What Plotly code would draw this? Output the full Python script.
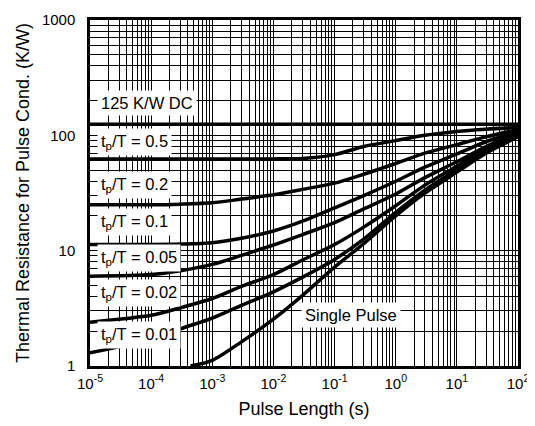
import plotly.graph_objects as go
import math

# Pulse length (s)
pulse_len = [1e-5, 1e-4, 3e-4, 1e-3, 3e-3, 1e-2, 3e-2, 1e-1, 3e-1, 1, 3, 10, 30, 100]

# Thermal resistance (K/W) for each duty cycle
z_dc = [125] * len(pulse_len)
z_05 = [62.5, 62.5, 62.5, 62.5, 62.5, 62.5, 63, 68, 80, 90, 100, 108, 113, 117]
z_02 = [25, 25, 25.3, 26, 28, 30.5, 34, 38.5, 46, 57, 70, 83, 97, 112]
z_01 = [11.3, 11.3, 11.4, 11.7, 12.8, 14.8, 18, 23.5, 30, 40, 53, 69, 88, 108]
z_005 = [6.0, 6.2, 6.7, 7.6, 9.1, 11.2, 13.8, 17.5, 23, 31, 43, 59, 80, 105]
z_002 = [2.4, 2.75, 3.2, 3.85, 4.9, 6.2, 8.3, 11.3, 16, 24.5, 37, 54, 77, 103]
z_001 = [1.3, 1.7, 2.1, 2.6, 3.35, 4.4, 5.9, 8.4, 12.6, 21.5, 33.5, 50.5, 73, 100]

single_len = [4.4e-4, 1e-3, 3e-3, 1e-2, 3e-2, 1e-1, 3e-1, 1, 3, 10, 30, 100]
z_single = [1.0, 1.12, 1.62, 2.55, 4.1, 7.2, 11.5, 20, 31.5, 48, 70, 97]

x_tickvals = [1e-5, 1e-4, 1e-3, 1e-2, 1e-1, 1, 10, 100]
x_ticktext = ["10<sup>-5</sup>", "10<sup>-4</sup>", "10<sup>-3</sup>", "10<sup>-2</sup>",
              "10<sup>-1</sup>", "10<sup>0</sup>", "10<sup>1</sup>", "10<sup>2</sup>"]
y_tickvals = [1, 10, 100, 1000]
y_ticktext = ["1", "10", "100", "1000"]

# labels: (text, x position [s], y position [K/W], anchor)
labels = [
    ("125 K/W DC", 1.3e-5, 191, "left"),
    ("t<sub>p</sub>/T = 0.5", 1.3e-5, 87, "left"),
    ("t<sub>p</sub>/T = 0.2", 1.3e-5, 37, "left"),
    ("t<sub>p</sub>/T = 0.1", 1.3e-5, 17.7, "left"),
    ("t<sub>p</sub>/T = 0.05", 1.3e-5, 8.6, "left"),
    ("t<sub>p</sub>/T = 0.02", 1.3e-5, 4.3, "left"),
    ("t<sub>p</sub>/T = 0.01", 1.3e-5, 1.85, "left"),
    ("Single Pulse", 0.187, 2.77, "center"),
]

FONT = "Liberation Sans, Arial, Helvetica, sans-serif"

fig = go.Figure()
series = [z_dc, z_05, z_02, z_01, z_005, z_002, z_001]
for ys in series:
    fig.add_trace(go.Scatter(x=pulse_len, y=ys, mode="lines",
                             line=dict(color="black", width=3.5, shape="spline", smoothing=0.8),
                             showlegend=False, hoverinfo="skip"))
fig.add_trace(go.Scatter(x=single_len, y=z_single, mode="lines",
                         line=dict(color="black", width=3.5, shape="spline", smoothing=0.8),
                         showlegend=False, hoverinfo="skip"))

for text, lx, ly, anc in labels:
    fig.add_annotation(x=math.log10(lx), y=math.log10(ly), text=text, showarrow=False,
                       xanchor=anc, yanchor="middle", bgcolor="white", borderpad=3,
                       font=dict(family=FONT, size=16.5, color="black"))

axis_common = dict(
    type="log",
    showline=True, mirror=True, linecolor="black", linewidth=2.5,
    showgrid=True, gridcolor="black", gridwidth=1.4,
    zeroline=False,
    ticks="", tickfont=dict(family=FONT, size=15, color="black"),
    minor=dict(dtick="D1", showgrid=True, gridcolor="black", gridwidth=1.4, ticks=""),
)

fig.update_xaxes(**axis_common, range=[-5, 2], tickmode="array",
                 tickvals=x_tickvals, ticktext=x_ticktext, ticklabelstandoff=2,
                 title=dict(text="Pulse Length (s)", font=dict(family=FONT, size=18, color="black"),
                            standoff=12))
fig.update_yaxes(**axis_common, range=[0, 3], tickmode="array",
                 tickvals=y_tickvals, ticktext=y_ticktext, ticklabelstandoff=9,
                 title=dict(text="Thermal Resistance for Pulse Cond. (K/W)",
                            font=dict(family=FONT, size=18, color="black"), standoff=8))

fig.update_layout(width=527, height=418, margin=dict(l=82, r=17, t=12, b=60, autoexpand=False),
                  paper_bgcolor="white", plot_bgcolor="white",
                  font=dict(family=FONT, color="black"))

fig.write_html("out.html")
